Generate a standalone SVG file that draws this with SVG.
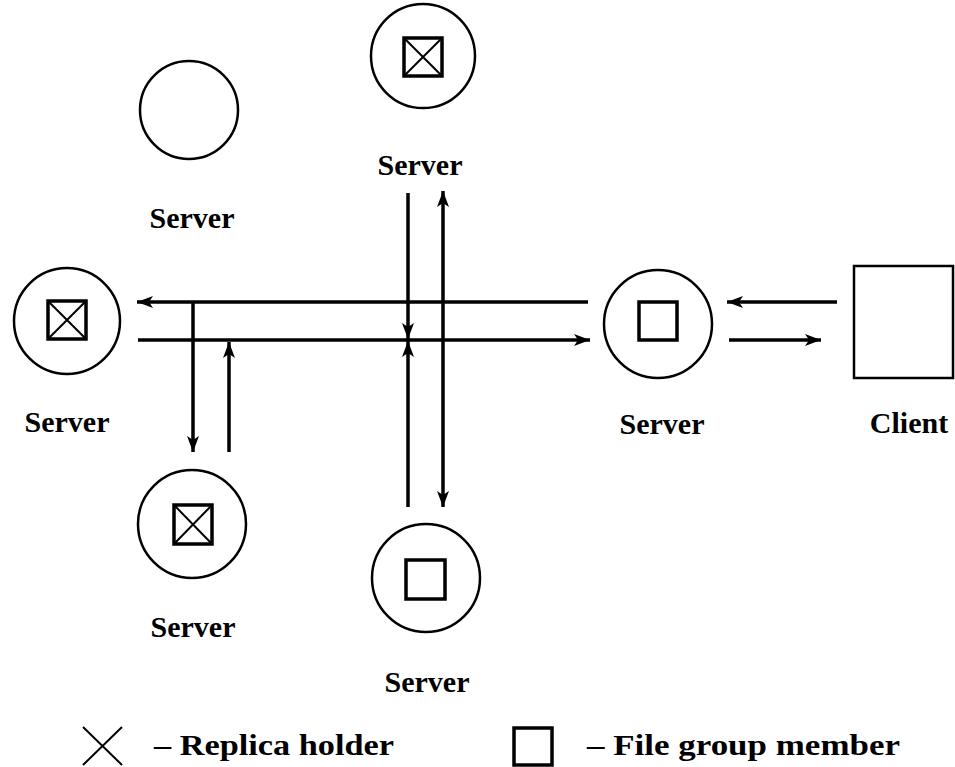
<svg xmlns="http://www.w3.org/2000/svg" width="955" height="767" viewBox="0 0 955 767">
<style>
.c{fill:none;stroke:#000;stroke-width:2.5}
.b{fill:none;stroke:#000;stroke-width:3.5}
.x{fill:none;stroke:#000;stroke-width:2}
.l{fill:none;stroke:#000;stroke-width:3.5}
.t{font-family:"Liberation Serif",serif;font-weight:bold;font-size:30px;fill:#000;text-anchor:middle}
.lg{font-family:"Liberation Serif",serif;font-weight:bold;font-size:30px;fill:#000}
</style>
<defs>
<marker id="a" markerUnits="userSpaceOnUse" markerWidth="18" markerHeight="12" refX="16" refY="6" orient="auto">
<path d="M0,0 L16,6 L0,12 L4,6 Z" fill="#000"/>
</marker>
<marker id="s" markerUnits="userSpaceOnUse" markerWidth="18" markerHeight="12" refX="0" refY="6" orient="auto">
<path d="M16,0 L0,6 L16,12 L12,6 Z" fill="#000"/>
</marker>
</defs>
<rect width="955" height="767" fill="#fff"/>
<g id="server-topleft">
<circle class="c" cx="189" cy="110" r="49"/>
<text class="t" x="192" y="228">Server</text>
</g>
<g id="server-top">
<circle class="c" cx="423" cy="56" r="52"/>
<rect class="b" x="404" y="38" width="38" height="38"/>
<path class="x" d="M404,38 L442,76 M442,38 L404,76"/>
<text class="t" x="420" y="175">Server</text>
</g>
<g id="server-left">
<circle class="c" cx="67" cy="321" r="53"/>
<rect class="b" x="48" y="301" width="38" height="38"/>
<path class="x" d="M48,301 L86,339 M86,301 L48,339"/>
<text class="t" x="67" y="432">Server</text>
</g>
<g id="server-right">
<circle class="c" cx="658" cy="324" r="54"/>
<rect class="b" x="639" y="302" width="38" height="38"/>
<text class="t" x="662" y="434">Server</text>
</g>
<g id="client">
<rect class="c" x="854" y="266" width="99" height="112"/>
<text class="t" x="909" y="433">Client</text>
</g>
<g id="server-bottomleft">
<circle class="c" cx="192" cy="524" r="54"/>
<rect class="b" x="174" y="505" width="38" height="39"/>
<path class="x" d="M174,505 L212,544 M212,505 L174,544"/>
<text class="t" x="193" y="637">Server</text>
</g>
<g id="server-bottom">
<circle class="c" cx="426" cy="578" r="54"/>
<rect class="b" x="406" y="560" width="39" height="39"/>
<text class="t" x="427" y="692">Server</text>
</g>
<g id="connectors">
<line class="l" x1="588" y1="302" x2="137" y2="302" marker-end="url(#a)"/>
<line class="l" x1="138" y1="340" x2="590" y2="340" marker-end="url(#a)"/>
<line class="l" x1="193" y1="302" x2="193" y2="452" marker-end="url(#a)"/>
<line class="l" x1="229" y1="452" x2="229" y2="342" marker-end="url(#a)"/>
<line class="l" x1="408" y1="193" x2="408" y2="339" marker-end="url(#a)"/>
<line class="l" x1="408" y1="507" x2="408" y2="341" marker-end="url(#a)"/>
<line class="l" x1="443" y1="191" x2="443" y2="507" marker-start="url(#s)" marker-end="url(#a)"/>
<line class="l" x1="837" y1="302" x2="727" y2="302" marker-end="url(#a)"/>
<line class="l" x1="729" y1="340" x2="821" y2="340" marker-end="url(#a)"/>
</g>
<g id="legend">
<path class="x" d="M83,727 L122,765 M122,727 L83,765"/>
<text class="lg" x="154" y="755" textLength="240" lengthAdjust="spacingAndGlyphs">– Replica holder</text>
<rect class="b" x="514" y="728" width="38" height="37"/>
<text class="lg" x="587" y="755" textLength="313" lengthAdjust="spacingAndGlyphs">– File group member</text>
</g>
</svg>
